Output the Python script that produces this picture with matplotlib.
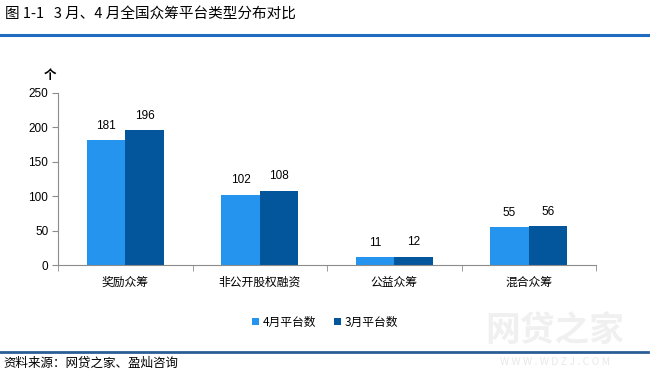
import matplotlib.pyplot as plt
import numpy as np

plt.rcParams['font.family'] = ['Noto Sans CJK SC', 'DejaVu Sans']

categories = ['奖励众筹', '非公开股权融资', '公益众筹', '混合众筹']
apr_counts = [181, 102, 11, 55]
mar_counts = [196, 108, 12, 56]
series_labels = ['4月平台数', '3月平台数']

light_blue = '#2494EE'
dark_blue = '#03559C'
axis_gray = '#8C8C8C'

fig = plt.figure(figsize=(6.54, 3.75), dpi=100)
ax = fig.add_axes([58 / 654, 110 / 375, 538 / 654, 172.3 / 375])

x = np.arange(len(categories))
w = 0.286
b1 = ax.bar(x - w / 2, apr_counts, w, color=light_blue, label=series_labels[0])
b2 = ax.bar(x + w / 2, mar_counts, w, color=dark_blue, label=series_labels[1])

for bars in (b1, b2):
    for rect in bars:
        h = rect.get_height()
        ax.annotate(f'{h:d}', (rect.get_x() + rect.get_width() / 2, h),
                    xytext=(0, 6), textcoords='offset points',
                    ha='center', va='bottom', fontsize=8.5, family='Liberation Sans')

ax.set_xlim(-0.5, len(categories) - 0.5)
ax.set_ylim(0, 250)
ax.set_yticks(range(0, 251, 50))
ax.set_yticklabels([str(v) for v in range(0, 251, 50)], family='Liberation Sans', fontsize=8.5)
ax.set_xticks(x)
ax.set_xticklabels(categories, fontsize=8.5)
ax.set_xticks(np.arange(-0.5, len(categories)), minor=True)
ax.tick_params(axis='x', which='major', length=0, pad=8)
ax.tick_params(axis='x', which='minor', length=4, color=axis_gray, direction='out')
ax.tick_params(axis='y', length=4, color=axis_gray, direction='out', pad=3)

for s in ('top', 'right'):
    ax.spines[s].set_visible(False)
for s in ('left', 'bottom'):
    ax.spines[s].set_color(axis_gray)
    ax.spines[s].set_linewidth(0.8)

# unit label above the y axis
fig.text(50 / 654, 1 - 75 / 375, '个', fontsize=9, fontweight='bold', ha='center', va='center')

ax.legend(loc='center', bbox_to_anchor=(325 / 654, 1 - 322 / 375), bbox_transform=fig.transFigure,
          ncol=2, frameon=False, fontsize=8.5, handlelength=0.6, handleheight=0.6,
          handletextpad=0.3, columnspacing=1.5)

# header / footer
fig.text(5 / 654, 1 - 14 / 375, '图 1-1   3 月、4 月全国众筹平台类型分布对比', fontsize=10.5,
         ha='left', va='center')
fig.add_artist(plt.Line2D([0, 648 / 654], [1 - 35 / 375] * 2, color='#1F6BBF', lw=2.2))
fig.add_artist(plt.Line2D([0, 648 / 654], [1 - 352 / 375] * 2, color='#2A5E96', lw=2))
fig.text(3 / 654, 1 - 363 / 375, '资料来源：网贷之家、盈灿咨询', fontsize=9, ha='left', va='center')

# watermark
fig.text(555 / 654, 1 - 330 / 375, '网贷之家', fontsize=25, fontweight='bold', color='#F0F0F0',
         ha='center', va='center', zorder=-1)
fig.text(555 / 654, 1 - 362 / 375, 'W W W . W D Z J . C O M', fontsize=7.5, color='#E8E8E8',
         ha='center', va='center', zorder=-1)

fig.savefig('out.png', dpi=100)
